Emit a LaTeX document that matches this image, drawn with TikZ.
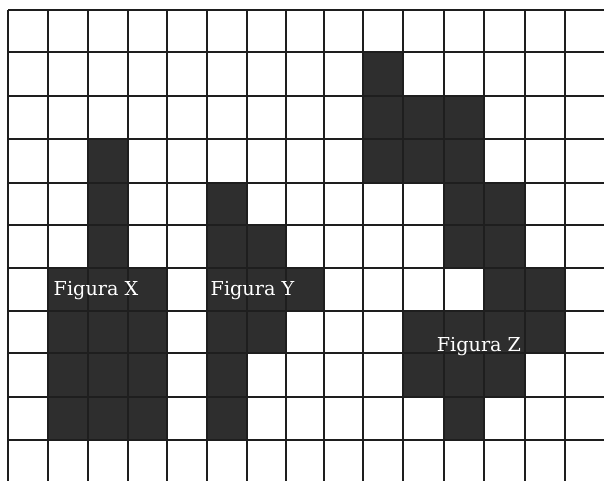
\documentclass[tikz,border=0pt]{standalone}
\usepackage{fontspec}
\newfontfamily\labelfont{DejaVu Serif}
\definecolor{cellfill}{HTML}{2E2E2E}
\definecolor{gridline}{HTML}{1E1E1E}
\begin{document}
\begin{tikzpicture}[x=1pt,y=-1pt,
  gridstyle/.style={draw=gridline,line width=2pt},
  figlabel/.style={text=white,font=\labelfont\fontsize{19.2}{19.2}\selectfont,anchor=base,inner sep=0pt}]
\useasboundingbox[fill=white] (0,0) rectangle (604,481);
\def\XS{{8,48,88,128,167,207,247,286,324,363,403,444,484,525,565,604}}
\def\YS{{10,52,96,139,183,225,268,311,353,397,440,481}}
% shaded cells (column, row)
\foreach \c/\r in {2/3,2/4,2/5,1/6,2/6,3/6,1/7,2/7,3/7,1/8,2/8,3/8,1/9,2/9,3/9,
  5/4,5/5,6/5,5/6,6/6,7/6,5/7,6/7,5/8,5/9,
  9/1,9/2,10/2,11/2,9/3,10/3,11/3,11/4,12/4,11/5,12/5,12/6,13/6,
  10/7,11/7,12/7,13/7,10/8,11/8,12/8,11/9}{
  \pgfmathsetmacro\xa{\XS[\c]}
  \pgfmathsetmacro\xb{\XS[\c+1]}
  \pgfmathsetmacro\ya{\YS[\r]}
  \pgfmathsetmacro\yb{\YS[\r+1]}
  \fill[cellfill] (\xa,\ya) rectangle (\xb,\yb);
}
% grid lines
\foreach \x in {8,48,88,128,167,207,247,286,324,363,403,444,484,525,565}
  \draw[gridstyle] (\x,10) -- (\x,481);
\foreach \y in {10,52,96,139,183,225,268,311,353,397,440}
  \draw[gridstyle] (8,\y) -- (604,\y);
% labels
\node[figlabel] (lx) at (96,295) {Figura X};
\node[figlabel] (ly) at (252.5,295) {Figura Y};
\node[figlabel] (lz) at (479,351) {Figura Z};
\end{tikzpicture}
\end{document}
